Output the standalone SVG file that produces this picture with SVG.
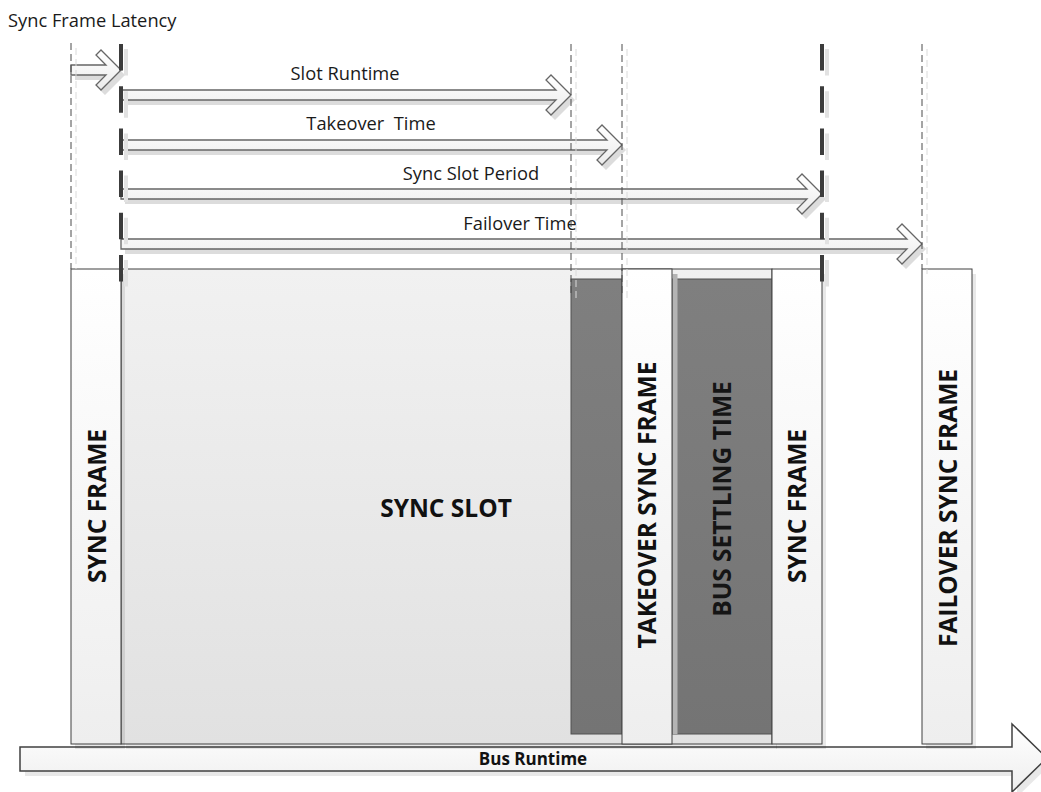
<svg xmlns="http://www.w3.org/2000/svg" width="1041" height="792" viewBox="0 0 1041 792">
<defs>
<linearGradient id="gFrame" x1="0" y1="0" x2="0" y2="1"><stop offset="0" stop-color="#ffffff"/><stop offset="1" stop-color="#eeeeee"/></linearGradient>
<linearGradient id="gSlot" x1="0" y1="0" x2="0" y2="1"><stop offset="0" stop-color="#f1f1f1"/><stop offset="1" stop-color="#e1e1e1"/></linearGradient>
<linearGradient id="gDark" x1="0" y1="0" x2="0" y2="1"><stop offset="0" stop-color="#7f7f7f"/><stop offset="1" stop-color="#747474"/></linearGradient>
<linearGradient id="gArrow" x1="0" y1="0" x2="0" y2="1"><stop offset="0" stop-color="#ffffff"/><stop offset="1" stop-color="#ececec"/></linearGradient>
<style>
.frame{fill:url(#gFrame);stroke:#404040;stroke-width:1}
.slot{fill:url(#gSlot);stroke:#404040;stroke-width:1}
.dark{fill:url(#gDark);stroke:#505050;stroke-width:1}
.shadow{fill:#000;fill-opacity:0.09;stroke:none}
.arrow{fill:url(#gArrow);stroke:#666;stroke-width:1.3;stroke-linejoin:miter}
.ashadow{fill:#dcdcdc;stroke:none}
.thin{stroke:#4a4a4a;stroke-width:1;stroke-dasharray:7 4;fill:none}
.thinsh{stroke:#dadada;stroke-width:1;stroke-dasharray:7 4;fill:none}
.thick{stroke:#3c3c3c;stroke-width:4;stroke-dasharray:26.5 15.7;fill:none}
.thicksh{stroke:#e2e2e2;stroke-width:4;stroke-dasharray:26.5 15.7;fill:none}
.lbl{font-family:"Open Sans","Liberation Sans",sans-serif;font-size:18.3px;fill:#1a1a1a}
.big{font-family:"Open Sans","Liberation Sans",sans-serif;font-size:24.5px;font-weight:bold;fill:#111;text-anchor:middle;dominant-baseline:central}
.bus{font-family:"Open Sans","Liberation Sans",sans-serif;font-size:17px;font-weight:bold;fill:#111;text-anchor:middle}
</style>
</defs>
<rect width="1041" height="792" fill="#ffffff"/>

<text class="lbl" x="8" y="27">Sync Frame Latency</text>

<g id="bus-runtime">
<polygon class="shadow" points="25,752 1017,752 1017,729 1052,763 1017,797 1017,776 25,776"/>
<polygon points="20,747 1012,747 1012,724 1047,758 1012,792 1012,771 20,771" fill="url(#gFrame)" stroke="#404040" stroke-width="1.5"/>
<text class="bus" x="533" y="765">Bus Runtime</text>
</g>

<g id="sync-slot">
<rect class="shadow" x="126" y="274" width="651" height="475"/>
<rect class="slot" x="121" y="269" width="651" height="475"/>
<text class="big" x="446" y="507">SYNC SLOT</text>
</g>

<g id="sync-frame-1">
<rect class="shadow" x="75" y="274" width="50" height="475"/>
<rect class="frame" x="71" y="269" width="50" height="475"/>
<text class="big" transform="translate(96,506) rotate(-90)">SYNC FRAME</text>
</g>

<g id="slot-tail">
<rect class="dark" x="571" y="279" width="51" height="455"/>
</g>

<g id="bus-settling-time">
<rect class="dark" x="672" y="279" width="100" height="455"/>
<rect x="672.5" y="274" width="5" height="460" fill="#b4b4b4"/>
<text class="big" transform="translate(721,499) rotate(-90)" style="fill:#151515">BUS SETTLING TIME</text>
</g>

<g id="takeover-sync-frame">
<rect class="frame" x="622" y="269" width="50" height="475"/>
<text class="big" transform="translate(646,505) rotate(-90)">TAKEOVER SYNC FRAME</text>
</g>

<g id="sync-frame-2">
<rect class="shadow" x="776" y="274" width="50" height="475"/>
<rect class="frame" x="772" y="269" width="50" height="475"/>
<text class="big" transform="translate(796,506) rotate(-90)">SYNC FRAME</text>
</g>

<g id="failover-sync-frame">
<rect class="shadow" x="926" y="274" width="50" height="475"/>
<rect class="frame" x="922" y="269" width="50" height="475"/>
<text class="big" transform="translate(947,508) rotate(-90)">FAILOVER SYNC FRAME</text>
</g>

<g id="connectors">
<g id="arrow-shadows" transform="translate(4,5)">
<polygon class="ashadow" points="71,65 106,65 96,55 101,50 121,70 101,90 96,85 106,75 71,75"/>
<polygon class="ashadow" points="121,90 556,90 546,80 551,75 571,95 551,115 546,110 556,100 121,100"/>
<polygon class="ashadow" points="121,140 607,140 597,130 602,125 622,145 602,165 597,160 607,150 121,150"/>
<polygon class="ashadow" points="121,189 807,189 797,179 802,174 822,194 802,214 797,209 807,199 121,199"/>
<polygon class="ashadow" points="121,239 907,239 897,229 902,224 922,244 902,264 897,259 907,249 121,249"/>
</g>
<polygon id="arrow-latency" class="arrow" points="71,65 106,65 96,55 101,50 121,70 101,90 96,85 106,75 71,75"/>
<polygon id="arrow-slot-runtime" class="arrow" points="121,90 556,90 546,80 551,75 571,95 551,115 546,110 556,100 121,100"/>
<polygon id="arrow-takeover" class="arrow" points="121,140 607,140 597,130 602,125 622,145 602,165 597,160 607,150 121,150"/>
<polygon id="arrow-period" class="arrow" points="121,189 807,189 797,179 802,174 822,194 802,214 797,209 807,199 121,199"/>
<polygon id="arrow-failover" class="arrow" points="121,239 907,239 897,229 902,224 922,244 902,264 897,259 907,249 121,249"/>

<text class="lbl" x="345" y="80" text-anchor="middle">Slot Runtime</text>
<text class="lbl" x="371" y="130" text-anchor="middle" xml:space="preserve">Takeover  Time</text>
<text class="lbl" x="471" y="180" text-anchor="middle">Sync Slot Period</text>
<text class="lbl" x="520" y="230" text-anchor="middle">Failover Time</text>

<line class="thinsh" x1="76" y1="48" x2="76" y2="269"/>
<line class="thin" x1="71" y1="43" x2="71" y2="269"/>
<line class="thinsh" x1="576" y1="49" x2="576" y2="300"/>
<line class="thin" x1="571" y1="44" x2="571" y2="295"/>
<line class="thinsh" x1="627" y1="49" x2="627" y2="300"/>
<line class="thin" x1="622" y1="44" x2="622" y2="295"/>
<line class="thinsh" x1="927" y1="49" x2="927" y2="274"/>
<line class="thin" x1="922" y1="44" x2="922" y2="269"/>
<line class="thicksh" x1="126" y1="49" x2="126" y2="288"/>
<line class="thick" x1="121" y1="44" x2="121" y2="283"/>
<line class="thicksh" x1="827" y1="49" x2="827" y2="288"/>
<line class="thick" x1="822" y1="44" x2="822" y2="283"/>
</g>
</svg>
